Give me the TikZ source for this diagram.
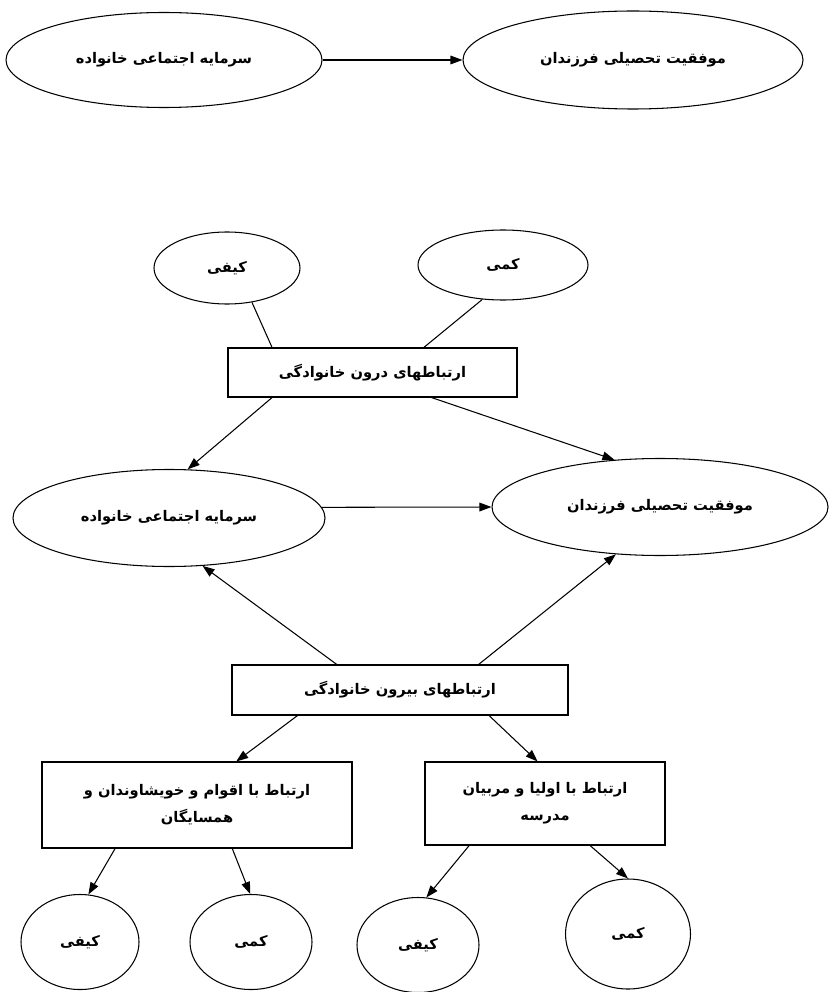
\documentclass[tikz,border=0pt]{standalone}
\usepackage{fontspec}
\newfontfamily\fafont[Script=Arabic]{DejaVu Sans}
\TeXXeTstate=1
\usetikzlibrary{shapes.geometric,arrows.meta}
\newcommand{\fa}[1]{{\fafont\bfseries\beginR #1\endR}}

\begin{document}
\begin{tikzpicture}[x=0.03cm, y=-0.03cm, font=\fontsize{12.5}{23}\selectfont,
  oval/.style={draw, ellipse, line width=0.9pt, inner sep=0pt},
  box/.style={draw, rectangle, line width=0.9pt, align=center},
  link/.style={line width=0.9pt},
  arr/.style={link, -{Triangle[length=3.6mm,width=2.6mm]}}]
\useasboundingbox (0,0) rectangle (830,992);

% top model
\node[oval, minimum width=9.48cm, minimum height=2.85cm] (sarmaye1) at (164,60) {\fa{سرمایه اجتماعی خانواده}};
\node[oval, minimum width=10.2cm, minimum height=2.94cm] (movafagh1) at (633,60) {\fa{موفقیت تحصیلی فرزندان}};
\draw[arr] (sarmaye1.east) -- (movafagh1.west);

% inner family ties
\node[oval, minimum width=4.38cm, minimum height=2.16cm] (kayfi1) at (227,268) {\fa{کیفی}};
\node[oval, minimum width=5.1cm, minimum height=2.1cm] (kammi1) at (503,265) {\fa{کمی}};
\node[box, minimum width=8.67cm, minimum height=1.47cm] (inner) at (372.5,372.5) {\fa{ارتباطهای درون خانوادگی}};
\draw[link] (kayfi1.-54) -- (inner.166);
\draw[link] (kammi1.-121) -- (inner.26);

% middle model
\node[oval, minimum width=9.36cm, minimum height=2.91cm] (sarmaye2) at (169,518) {\fa{سرمایه اجتماعی خانواده}};
\node[oval, minimum width=10.08cm, minimum height=2.91cm] (movafagh2) at (660,507) {\fa{موفقیت تحصیلی فرزندان}};
\draw[arr] (inner.194) -- (sarmaye2.69);
\draw[arr] (inner.-23) -- (movafagh2.134);
\draw[arr] (sarmaye2.4) -- (movafagh2.west);

% outer family ties
\node[box, minimum width=10.08cm, minimum height=1.5cm] (outer) at (400,690) {\fa{ارتباطهای بیرون خانوادگی}};
\draw[arr] (outer.158) -- (sarmaye2.-55);
\draw[arr] (outer.18) -- (movafagh2.-133);

\node[box, minimum width=9.3cm, minimum height=2.58cm] (aghvam) at (197,805) {\fa{ارتباط با اقوام و خویشاوندان و}\\\fa{همسایگان}};
\node[box, minimum width=7.2cm, minimum height=2.49cm] (madrese) at (545,803.5) {\fa{ارتباط با اولیا و مربیان}\\\fa{مدرسه}};
\draw[arr] (outer.194) -- (aghvam.48);
\draw[arr] (outer.-16) -- (madrese.100);

% bottom row
\node[oval, minimum width=3.54cm, minimum height=2.85cm] (kayfi2) at (80,942) {\fa{کیفی}};
\node[oval, minimum width=3.66cm, minimum height=2.85cm] (kammi2) at (251,942) {\fa{کمی}};
\node[oval, minimum width=3.66cm, minimum height=2.85cm] (kayfi3) at (418,945) {\fa{کیفی}};
\node[oval, minimum width=3.75cm, minimum height=3.3cm] (kammi3) at (628,934) {\fa{کمی}};
\draw[arr] (aghvam.208) -- (kayfi2.80);
\draw[arr] (aghvam.-51) -- (kammi2.91);
\draw[arr] (madrese.-151) -- (kayfi3.80);
\draw[arr] (madrese.-43) -- (kammi3.90);
\end{tikzpicture}
\end{document}
